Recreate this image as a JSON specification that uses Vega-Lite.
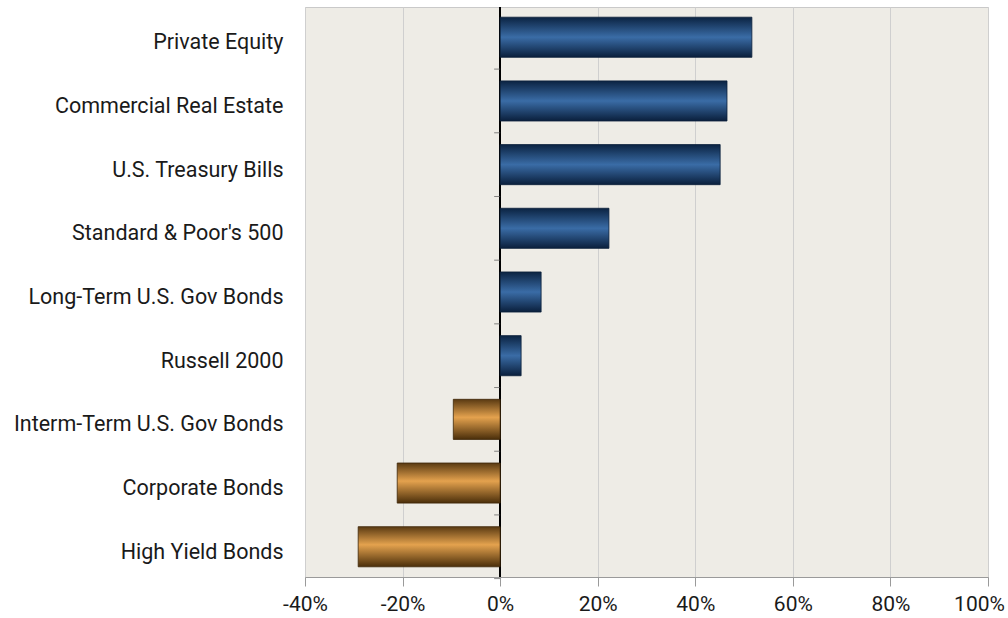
{
  "$schema": "https://vega.github.io/schema/vega-lite/v6.json",
  "width": 683,
  "height": 570,
  "autosize": {"type": "none"},
  "padding": {"left": 305, "top": 7, "right": 20, "bottom": 41},
  "background": "white",
  "config": {
    "view": {"fill": "#EEECE6", "stroke": "#c9c9c9"},
    "font": "Roboto"
  },
  "data": {
    "values": [
      {"asset": "Private Equity", "value": 0.516},
      {"asset": "Commercial Real Estate", "value": 0.465},
      {"asset": "U.S. Treasury Bills", "value": 0.451},
      {"asset": "Standard & Poor's 500", "value": 0.223},
      {"asset": "Long-Term U.S. Gov Bonds", "value": 0.084},
      {"asset": "Russell 2000", "value": 0.043},
      {"asset": "Interm-Term U.S. Gov Bonds", "value": -0.096},
      {"asset": "Corporate Bonds", "value": -0.211},
      {"asset": "High Yield Bonds", "value": -0.291}
    ]
  },
  "encoding": {
    "y": {
      "field": "asset",
      "type": "nominal",
      "sort": null,
      "scale": {"paddingInner": 0.37, "paddingOuter": 0.16},
      "axis": {
        "title": null,
        "ticks": false,
        "domain": false,
        "labelFontSize": 21.5,
        "labelColor": "#1a1a1a",
        "labelPadding": 22,
        "labelLimit": 320,
        "labelOffset": 6,
        "labelFont": "Roboto"
      }
    }
  },
  "layer": [
    {
      "mark": {"type": "rule", "color": "#000000", "strokeWidth": 1.5},
      "encoding": {"x": {"datum": 0, "type": "quantitative"}, "y": null}
    },
    {
      "transform": [{"filter": "datum.value >= 0"}],
      "mark": {
        "type": "bar",
        "stroke": "#0a1f3a",
        "strokeWidth": 0.8,
        "color": {
          "gradient": "linear", "x1": 0, "y1": 0, "x2": 0, "y2": 1,
          "stops": [
            {"offset": 0, "color": "#0b2342"},
            {"offset": 0.5, "color": "#3a6ca6"},
            {"offset": 1, "color": "#0a1f3c"}
          ]
        }
      },
      "encoding": {
        "x": {
          "field": "value",
          "type": "quantitative",
          "scale": {"domain": [-0.4, 1.0], "nice": false},
          "axis": {
            "title": null,
            "labelExpr": "round(datum.value * 100) + '%'",
            "values": [-0.4, -0.2, 0, 0.2, 0.4, 0.6, 0.8, 1.0],
            "grid": true,
            "gridColor": "#cfcfcf",
            "gridWidth": 1,
            "domainColor": "#9a9a9a",
            "tickColor": "#9a9a9a",
            "tickSize": 9,
            "labelFontSize": 21,
            "labelColor": "#1a1a1a",
            "labelPadding": 7,
            "labelFlush": false,
            "labelOffset": {"condition": {"test": "datum.value == 1", "value": -9}, "value": 0},
            "labelFont": "Roboto"
          }
        },
        "x2": {"datum": 0}
      }
    },
    {
      "transform": [{"filter": "datum.value < 0"}],
      "mark": {
        "type": "bar",
        "stroke": "#3e2608",
        "strokeWidth": 0.8,
        "color": {
          "gradient": "linear", "x1": 0, "y1": 0, "x2": 0, "y2": 1,
          "stops": [
            {"offset": 0, "color": "#5a3a12"},
            {"offset": 0.45, "color": "#e4a24e"},
            {"offset": 1, "color": "#4a2e0a"}
          ]
        }
      },
      "encoding": {
        "x": {"field": "value", "type": "quantitative"},
        "x2": {"datum": 0}
      }
    },
    {
      "mark": {"type": "tick", "orient": "horizontal", "size": 6, "thickness": 1, "color": "#555555", "xOffset": -3, "yOffset": 31.85},
      "encoding": {"x": {"datum": 0, "type": "quantitative"}}
    }
  ]
}
